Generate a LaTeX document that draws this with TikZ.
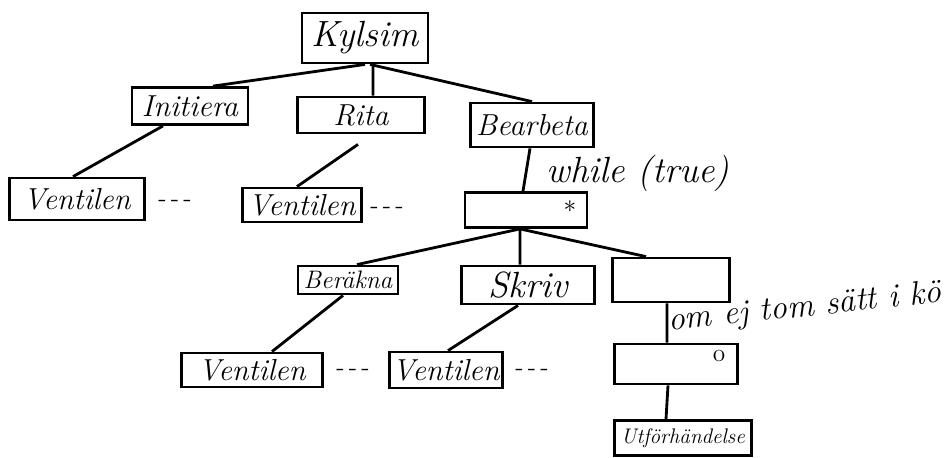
\documentclass[tikz,border=0pt]{standalone}
\usepackage{tikz}
\newcommand{\boxline}{1.6pt}

\begin{document}
\begin{tikzpicture}[x=0.02cm, y=-0.02cm, line width=\boxline]
  \useasboundingbox (0,0) rectangle (947,457);

  % top level
  \node (kylsim) at (365,38) [draw, minimum width=2.52cm, minimum height=1cm, font=\huge\itshape] {Kylsim};
  \node (initiera) at (190,106) [draw, minimum width=2.32cm, minimum height=0.74cm, font=\LARGE\itshape] {Initiera};
  \node (rita) at (361,115) [draw, minimum width=2.54cm, minimum height=0.72cm, font=\LARGE\itshape] {Rita};
  \node (bearbeta) at (532,125) [draw, minimum width=2.42cm, minimum height=0.88cm, font=\LARGE\itshape] {Bearbeta};

  % ventiler under Initiera och Rita
  \node (vent1) at (77,199) [draw, minimum width=2.7cm, minimum height=0.84cm, font=\LARGE\itshape] {Ventilen};
  \node (dots1) at (175,203) [font=\Large] {-\,-\,-};
  \node (vent2) at (302,205) [draw, minimum width=2.38cm, minimum height=0.68cm, inner sep=1pt, font=\LARGE\itshape] {Ventilen};
  \node (dots2) at (387,210) [font=\Large] {-\,-\,-};

  % loop
  \node (loop) at (526,210) [draw, minimum width=2.44cm, minimum height=0.7cm] {};
  \node (star) at (570,207) [inner sep=0pt, font=\Large] {$\ast$};
  \node (while) at (638,173) [inner sep=1pt, font=\huge\itshape] {while (true)};

  \node (berakna) at (348,280) [draw, minimum width=2cm, minimum height=0.56cm, inner sep=1pt, font=\Large\itshape] {Beräkna};
  \node (skriv) at (528,285) [draw, minimum width=2.66cm, minimum height=0.72cm, font=\huge\itshape] {Skriv};
  \node (tom) at (671,280) [draw, minimum width=2.34cm, minimum height=0.88cm] {};
  \node (villkor) at (805,308) [rotate=6, font=\fontsize{19pt}{22pt}\selectfont\itshape] {om ej tom sätt i kö};

  \node (vent3) at (252,370) [draw, minimum width=2.82cm, minimum height=0.68cm, inner sep=1pt, font=\LARGE\itshape] {Ventilen};
  \node (dots3) at (353,372) [font=\Large] {-\,-\,-};
  \node (vent4) at (446,370) [draw, minimum width=2.26cm, minimum height=0.72cm, inner sep=1pt, font=\LARGE\itshape] {Ventilen};
  \node (dots4) at (532,372) [font=\Large] {-\,-\,-};

  \node (val) at (676,364) [draw, minimum width=2.46cm, minimum height=0.8cm] {};
  \node (ring) at (719,356) [font=\Large] {o};
  \node (utfor) at (683,438) [draw, minimum width=2.74cm, minimum height=0.7cm, inner sep=1pt, font=\large\itshape] {Utförhändelse};

  \draw (kylsim.south) to ([xshift=0.46cm]initiera.north);
  \draw ([xshift=0.16cm]kylsim.south) to ([xshift=0.24cm]rita.north);
  \draw ([xshift=0.1cm]kylsim.south) to (bearbeta.north);
  \draw ([xshift=-0.54cm]initiera.south) to ([xshift=-0.08cm]vent1.north);
  \draw ([xshift=-0.06cm,yshift=-0.2cm]rita.south) to ([xshift=-0.1cm]vent2.north);
  \draw ([xshift=-0.04cm]bearbeta.south) to ([xshift=-0.06cm]loop.north);
  \draw ([xshift=-0.12cm]loop.south) to ([xshift=0.18cm]berakna.north);
  \draw ([xshift=-0.12cm]loop.south) to ([xshift=-0.16cm]skriv.north);
  \draw ([xshift=-0.12cm]loop.south) to ([xshift=-0.5cm]tom.north);
  \draw ([xshift=-0.1cm]berakna.south) to ([xshift=0.4cm]vent3.north);
  \draw ([xshift=-0.2cm]skriv.south) to ([xshift=0.04cm]vent4.north);
  \draw ([xshift=-0.08cm]tom.south) to ([xshift=-0.18cm]val.north);
  \draw ([xshift=-0.16cm]val.south) to ([xshift=-0.34cm]utfor.north);

\end{tikzpicture}
\end{document}
